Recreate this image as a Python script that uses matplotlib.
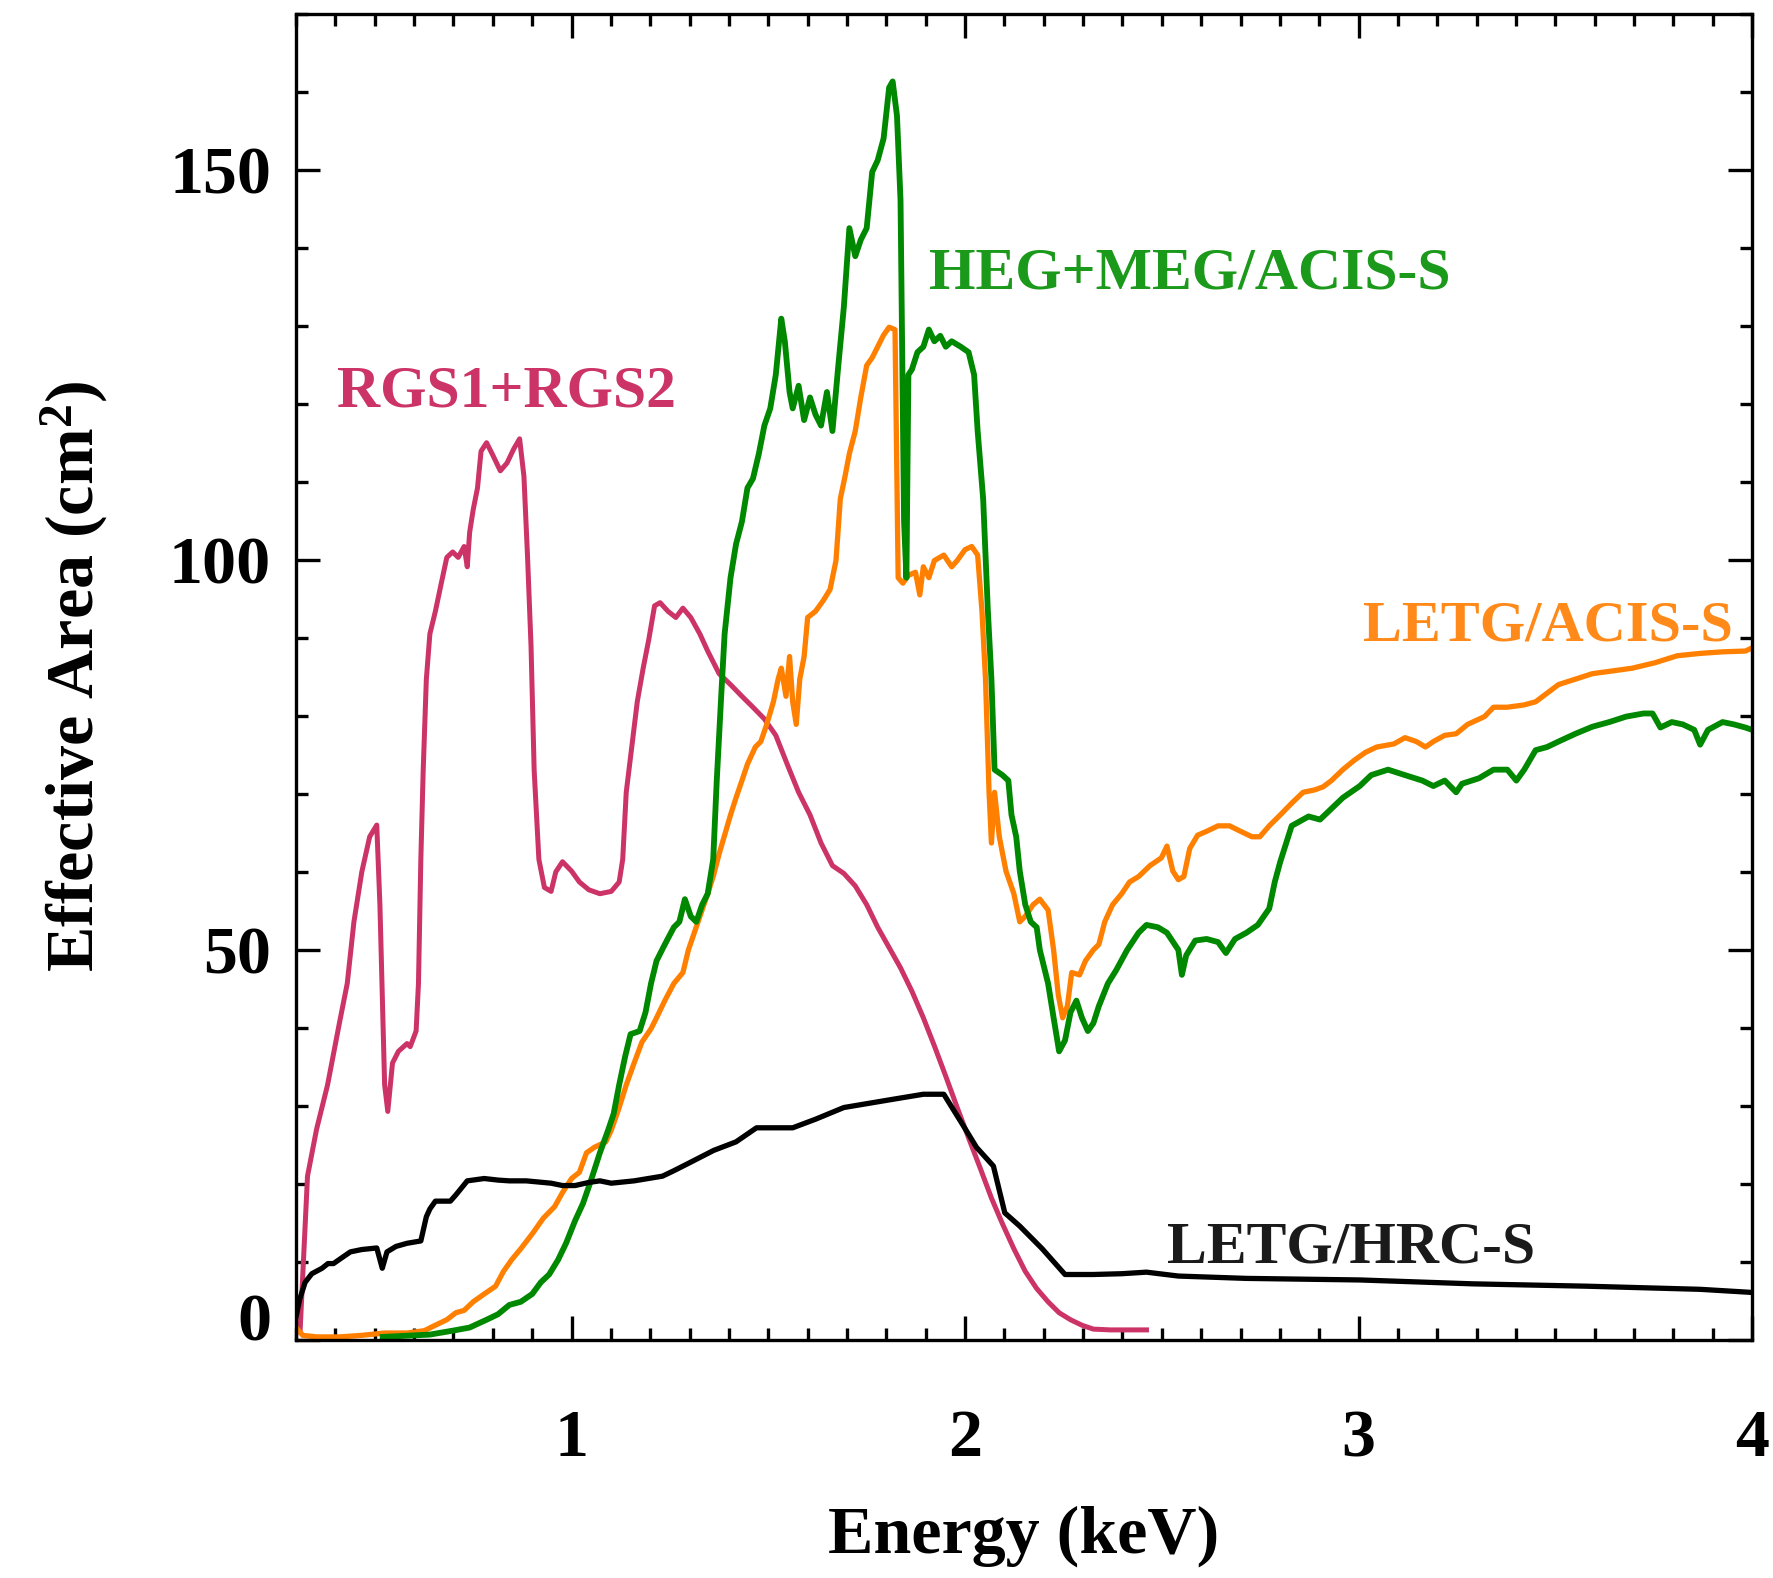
import matplotlib
matplotlib.use("Agg")
import matplotlib.pyplot as plt
from matplotlib.ticker import MultipleLocator

# RGS1+RGS2
rgs_E = [0.31, 0.329, 0.352, 0.38, 0.41, 0.43, 0.447, 0.467, 0.487, 0.505, 0.513, 0.525, 0.533,
         0.545, 0.56, 0.582, 0.59, 0.605, 0.611, 0.617, 0.623, 0.631, 0.64, 0.654, 0.669, 0.683,
         0.698, 0.712, 0.727, 0.735, 0.741, 0.75, 0.761, 0.77, 0.784, 0.799, 0.819, 0.836, 0.853,
         0.868, 0.879, 0.888, 0.897, 0.905, 0.917, 0.931, 0.948, 0.96, 0.977, 1.0, 1.02, 1.044,
         1.072, 1.101, 1.121, 1.13, 1.139, 1.153, 1.167, 1.182, 1.196, 1.211, 1.225, 1.245, 1.265,
         1.283, 1.303, 1.326, 1.346, 1.375, 1.404, 1.433, 1.461, 1.49, 1.519, 1.548, 1.577, 1.606,
         1.634, 1.663, 1.692, 1.721, 1.75, 1.778, 1.807, 1.836, 1.865, 1.894, 1.922, 1.951, 1.98,
         2.009, 2.038, 2.067, 2.095, 2.124, 2.153, 2.182, 2.211, 2.239, 2.268, 2.297, 2.326, 2.369,
         2.427, 2.461]
rgs_A = [1.0, 21, 27, 32.7, 40.6, 45.7, 53.6, 60, 64.5, 66, 55.8, 32.7, 29.3,
         35.5, 37, 38, 37.6, 39.6, 45.7, 61.6, 73, 84.7, 90.5, 93.4, 97, 100.3,
         101, 100.3, 101.7, 99.1, 103.5, 106.4, 109.2, 113.9, 115, 113.5, 111.4, 112.4, 114.2,
         115.5, 110.7, 100.6, 89, 73, 61.6, 58, 57.5, 60, 61.3, 60.1, 58.7, 57.7,
         57.2, 57.5, 58.7, 61.6, 70.2, 76, 81.8, 86.1, 89.7, 94.1, 94.5, 93.4, 92.6,
         93.8, 92.6, 90.5, 88.3, 85.4, 84, 82.5, 81.1, 79.6, 77.5, 73.8, 70.2, 67.3,
         63.7, 60.8, 59.8, 58.2, 55.8, 52.9, 50.3, 47.7, 44.7, 41.3, 37.7, 33.8, 29.8,
         25.9, 22.1, 18.2, 14.9, 11.7, 8.8, 6.6, 4.9, 3.5, 2.6, 1.9, 1.4, 1.3,
         1.3, 1.3]

# LETG/HRC-S
hrc_E = [0.3, 0.309, 0.323, 0.34, 0.366, 0.381, 0.395, 0.415, 0.438, 0.467, 0.505, 0.519, 0.531,
         0.554, 0.582, 0.617, 0.631, 0.64, 0.654, 0.692, 0.706, 0.735, 0.778, 0.813, 0.842, 0.885,
         0.948, 0.977, 1.009, 1.044, 1.072, 1.101, 1.159, 1.231, 1.26, 1.303, 1.361, 1.418, 1.47,
         1.562, 1.62, 1.692, 1.822, 1.894, 1.946, 1.994, 2.029, 2.072, 2.101, 2.139, 2.196, 2.254,
         2.326, 2.398, 2.461, 2.542, 2.715, 3.003, 3.291, 3.58, 3.868, 4.0]
hrc_A = [3.0, 5.2, 7.4, 8.5, 9.2, 9.8, 9.8, 10.5, 11.3, 11.6, 11.8, 9.2, 11.3,
         12.0, 12.4, 12.7, 15.8, 16.8, 17.8, 17.8, 18.6, 20.4, 20.7, 20.5, 20.4, 20.4,
         20.1, 19.8, 19.8, 20.2, 20.4, 20.1, 20.4, 21.0, 21.7, 22.8, 24.3, 25.4, 27.2,
         27.2, 28.3, 29.8, 30.9, 31.5, 31.5, 27.6, 24.7, 22.3, 16.3, 14.6, 11.7, 8.4,
         8.4, 8.5, 8.7, 8.2, 7.9, 7.7, 7.2, 6.9, 6.5, 6.1]

# HEG+MEG/ACIS-S
heg_E = [0.52, 0.64, 0.698, 0.741, 0.784, 0.813, 0.842, 0.871, 0.9, 0.922, 0.943, 0.966, 0.986,
         1.009, 1.029, 1.049, 1.072, 1.093, 1.107, 1.121, 1.136, 1.15, 1.173, 1.188, 1.202, 1.216,
         1.237, 1.26, 1.274, 1.288, 1.303, 1.317, 1.332, 1.346, 1.36, 1.369, 1.381, 1.389, 1.404,
         1.418, 1.433, 1.447, 1.461, 1.476, 1.49, 1.505, 1.519, 1.533, 1.542, 1.554, 1.562, 1.577,
         1.591, 1.606, 1.62, 1.634, 1.649, 1.663, 1.677, 1.692, 1.706, 1.721, 1.735, 1.75, 1.764,
         1.778, 1.793, 1.807, 1.816, 1.827, 1.836, 1.845, 1.851, 1.856, 1.865, 1.879, 1.894, 1.908,
         1.922, 1.937, 1.951, 1.966, 1.989, 2.009, 2.023, 2.032, 2.046, 2.058, 2.067, 2.075, 2.095,
         2.11, 2.118, 2.13, 2.139, 2.153, 2.167, 2.182, 2.19, 2.211, 2.225, 2.239, 2.254, 2.268,
         2.283, 2.297, 2.312, 2.326, 2.34, 2.363, 2.384, 2.412, 2.441, 2.461, 2.49, 2.513, 2.542,
         2.551, 2.562, 2.585, 2.614, 2.643, 2.663, 2.686, 2.715, 2.744, 2.773, 2.787, 2.801, 2.83,
         2.873, 2.902, 2.931, 2.96, 3.003, 3.032, 3.075, 3.118, 3.162, 3.19, 3.219, 3.248, 3.263,
         3.306, 3.343, 3.378, 3.401, 3.421, 3.45, 3.479, 3.508, 3.551, 3.594, 3.637, 3.68, 3.724,
         3.747, 3.767, 3.796, 3.824, 3.853, 3.868, 3.888, 3.925, 3.954, 3.983, 4.0]
heg_A = [0.4, 0.7, 1.2, 1.6, 2.6, 3.3, 4.5, 4.9, 5.9, 7.4, 8.4, 10.3, 12.4,
         15.3, 17.5, 20.4, 24.0, 26.9, 29.0, 32.7, 36.3, 39.2, 39.6, 42.0, 45.7, 48.6,
         50.7, 52.9, 53.6, 56.5, 54.3, 53.6, 55.8, 57.2, 61.6, 71.7, 83.2, 90.5, 97.7,
         102.0, 104.9, 109.2, 110.4, 113.6, 117.2, 119.4, 123.7, 130.9, 128.0, 121.5, 119.4, 122.3,
         117.9, 120.8, 118.6, 117.2, 121.5, 116.5, 124.4, 132.4, 142.5, 138.9, 141.0, 142.5, 149.7,
         151.2, 154.0, 160.5, 161.3, 156.9, 146.1, 104.9, 97.7, 123.7, 124.4, 126.6, 127.3, 129.5,
         128.0, 128.7, 127.3, 128.0, 127.3, 126.6, 123.7, 116.5, 107.8, 93.4, 84.7, 73.1, 72.4,
         71.7, 67.3, 64.5, 60.1, 55.8, 53.6, 52.9, 50.0, 45.7, 41.3, 37.0, 38.4, 42.0,
         43.5, 41.3, 39.6, 40.6, 42.8, 45.7, 47.4, 50.0, 52.2, 53.2, 52.9, 52.2, 50.0,
         46.8, 49.3, 51.2, 51.4, 51.0, 49.6, 51.4, 52.2, 53.2, 55.3, 58.7, 61.3, 65.9,
         67.1, 66.7, 68.1, 69.5, 71.0, 72.4, 73.1, 72.4, 71.7, 71.0, 71.7, 70.2, 71.3,
         72.0, 73.1, 73.1, 71.7, 73.1, 75.6, 76.0, 76.7, 77.7, 78.6, 79.2, 79.9, 80.3,
         80.3, 78.5, 79.2, 78.9, 78.2, 76.3, 78.2, 79.2, 78.9, 78.5, 78.2]

# LETG/ACIS-S
letg_E = [0.3, 0.317, 0.352, 0.41, 0.467, 0.525, 0.582, 0.626, 0.654, 0.683, 0.706, 0.727, 0.75,
          0.778, 0.807, 0.827, 0.848, 0.871, 0.9, 0.928, 0.957, 0.977, 1.0, 1.02, 1.038, 1.058,
          1.087, 1.101, 1.121, 1.139, 1.159, 1.179, 1.202, 1.216, 1.237, 1.26, 1.283, 1.297, 1.312,
          1.332, 1.346, 1.36, 1.375, 1.389, 1.404, 1.418, 1.433, 1.447, 1.467, 1.481, 1.496, 1.513,
          1.525, 1.533, 1.545, 1.554, 1.562, 1.571, 1.58, 1.591, 1.6, 1.62, 1.64, 1.657, 1.672,
          1.683, 1.695, 1.706, 1.721, 1.735, 1.75, 1.764, 1.778, 1.793, 1.807, 1.822, 1.83, 1.842,
          1.856, 1.874, 1.885, 1.894, 1.908, 1.922, 1.946, 1.966, 1.98, 2.0, 2.017, 2.032, 2.043,
          2.052, 2.061, 2.067, 2.075, 2.087, 2.104, 2.124, 2.139, 2.153, 2.173, 2.19, 2.211, 2.225,
          2.237, 2.248, 2.26, 2.271, 2.291, 2.306, 2.326, 2.34, 2.355, 2.375, 2.398, 2.418, 2.441,
          2.47, 2.499, 2.513, 2.528, 2.542, 2.556, 2.571, 2.591, 2.614, 2.643, 2.672, 2.7, 2.729,
          2.749, 2.773, 2.801, 2.83, 2.859, 2.888, 2.91, 2.931, 2.96, 2.989, 3.017, 3.046, 3.09,
          3.118, 3.147, 3.17, 3.19, 3.219, 3.248, 3.277, 3.32, 3.343, 3.378, 3.421, 3.45, 3.479,
          3.508, 3.551, 3.594, 3.637, 3.695, 3.753, 3.81, 3.868, 3.925, 3.983, 4.0]
letg_A = [1.6, 0.6, 0.4, 0.4, 0.6, 0.9, 0.9, 1.2, 1.9, 2.6, 3.5, 3.8, 4.9,
          5.9, 6.9, 8.8, 10.3, 11.7, 13.6, 15.6, 17.1, 18.9, 20.7, 21.5, 24.0, 24.7,
          25.4, 26.9, 29.8, 32.7, 35.5, 38.2, 39.9, 41.3, 43.5, 45.7, 47.1, 50.0, 52.2,
          55.1, 57.2, 59.4, 62.3, 64.7, 67.3, 69.5, 71.7, 73.8, 76.0, 76.7, 78.9, 81.8,
          84.7, 86.1, 82.5, 87.6, 81.8, 78.9, 84.7, 87.6, 92.6, 93.4, 94.8, 96.2, 99.9,
          107.8, 110.7, 113.6, 116.5, 120.8, 124.9, 125.9, 127.3, 128.8, 129.8, 129.5, 97.7, 97.0,
          98.0, 98.4, 95.5, 99.1, 97.7, 99.9, 100.6, 99.1, 99.9, 101.3, 101.7, 100.6, 93.4,
          84.7, 70.2, 63.7, 70.2, 64.5, 60.1, 57.2, 53.6, 54.3, 55.8, 56.5, 55.1, 50.0,
          44.2, 41.3, 42.8, 47.1, 46.8, 48.6, 50.0, 50.7, 53.6, 55.8, 57.2, 58.7, 59.4,
          60.8, 61.8, 63.3, 60.1, 59.0, 59.4, 63.0, 64.7, 65.2, 65.9, 65.9, 65.2, 64.5,
          64.5, 65.9, 67.3, 68.8, 70.2, 70.5, 70.9, 71.7, 73.1, 74.3, 75.3, 76.0, 76.4,
          77.2, 76.7, 76.0, 76.7, 77.5, 77.7, 78.9, 79.9, 81.1, 81.1, 81.4, 81.8, 82.9,
          84.0, 84.7, 85.4, 85.7, 86.1, 86.8, 87.7, 88.0, 88.2, 88.3, 88.7]

plt.rcParams['font.family'] = ['Liberation Serif', 'DejaVu Serif']
plt.rcParams['font.weight'] = 'bold'
plt.rcParams['mathtext.fontset'] = 'custom'
plt.rcParams['mathtext.rm'] = 'Liberation Serif:bold'
plt.rcParams['mathtext.bf'] = 'Liberation Serif:bold'
plt.rcParams['mathtext.it'] = 'Liberation Serif:bold'

fig = plt.figure(figsize=(17.73, 15.78), dpi=100)
ax = fig.add_axes([0.1670, 0.1508, 0.8212, 0.8406])

ax.plot(rgs_E, rgs_A, color="#cc3366", lw=3.6)
ax.plot(letg_E, letg_A, color="#ff8000", lw=3.8)
ax.plot(heg_E, heg_A, color="#008800", lw=4.2)
ax.plot(hrc_E, hrc_A, color="black", lw=3.8)

ax.text(0.404, 119.7, "RGS1+RGS2", color="#cc3366", fontsize=43, fontweight="bold")
ax.text(1.908, 134.8, "HEG+MEG/ACIS-S", color="#1a991a", fontsize=43, fontweight="bold")
ax.text(3.012, 89.7, "LETG/ACIS-S", color="#ff8a1a", fontsize=42, fontweight="bold")
ax.text(2.513, 10.0, "LETG/HRC-S", color="#1a1a1a", fontsize=43, fontweight="bold")

ax.set_xlim(0.3, 4.0)
ax.set_ylim(0, 170)
ax.xaxis.set_major_locator(MultipleLocator(1))
ax.xaxis.set_minor_locator(MultipleLocator(0.1))
ax.yaxis.set_major_locator(MultipleLocator(50))
ax.yaxis.set_minor_locator(MultipleLocator(10))
ax.tick_params(which="both", direction="in", top=True, right=True, width=2.4)
ax.tick_params(which="major", length=17)
ax.tick_params(which="minor", length=8.5)
ax.tick_params(axis="x", which="major", pad=50, labelsize=49)
ax.tick_params(axis="y", which="major", pad=18, labelsize=49)
for s in ax.spines.values():
    s.set_linewidth(2.4)

ax.set_xlabel("Energy (keV)", fontsize=49, fontweight="bold")
ax.set_ylabel(r"Effective Area (cm$^{2}$)", fontsize=49, fontweight="bold")
ax.xaxis.set_label_coords(0.5, -0.125)
ax.yaxis.set_label_coords(-0.127, 0.5)

# the zero label sits on the axis line, like the original
fig.canvas.draw()
for tick in ax.yaxis.get_major_ticks():
    if tick.label1.get_text() == "0":
        tick.label1.set_verticalalignment("baseline")

fig.savefig("out.png", dpi=100)
